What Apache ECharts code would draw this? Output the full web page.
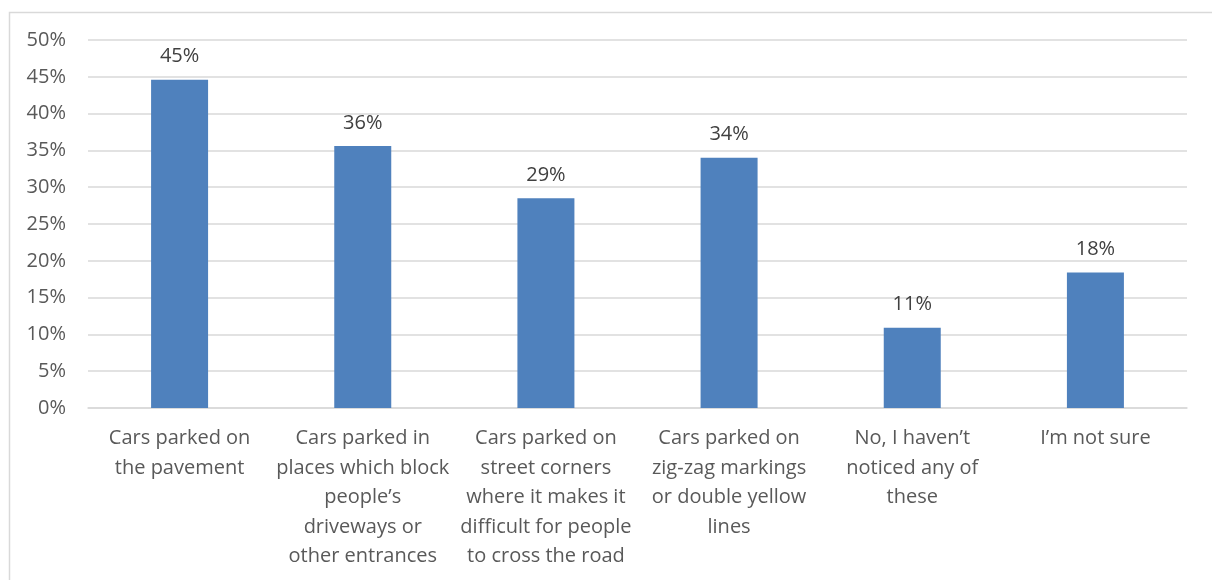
<!DOCTYPE html>
<html><head><meta charset="utf-8">
<script src="https://cdn.jsdelivr.net/npm/echarts@6/dist/echarts.min.js"></script>
<style>html,body{margin:0;padding:0;background:#fff}#c{width:1212px;height:580px}</style>
</head><body><div id="c"></div>
<script>
const categories = [
  "Cars parked on\nthe pavement",
  "Cars parked in\nplaces which block\npeople’s\ndriveways or\nother entrances",
  "Cars parked on\nstreet corners\nwhere it makes it\ndifficult for people\nto cross the road",
  "Cars parked on\nzig-zag markings\nor double yellow\nlines",
  "No, I haven’t\nnoticed any of\nthese",
  "I’m not sure"
];
const values = [44.6, 35.6, 28.5, 34.0, 10.9, 18.4];
const labels = ["45%", "36%", "29%", "34%", "11%", "18%"];
const yTicks = [0, 5, 10, 15, 20, 25, 30, 35, 40, 45, 50];

const font = "'Open Sans', sans-serif";
const chart = echarts.init(document.getElementById('c'));
chart.setOption({
  animation: false,
  graphic: [{
    type: 'rect', left: 7, top: 10, z: -1,
    shape: { x: 0, y: 0, width: 1230, height: 600 },
    style: { fill: 'none', stroke: '#d9d9d9', lineWidth: 1.5 }
  }],
  grid: { left: 88, right: 25, top: 40, bottom: 172, containLabel: false },
  xAxis: {
    type: 'category', data: categories,
    axisLine: { show: true, lineStyle: { color: '#d9d9d9', width: 1.5 } },
    axisTick: { show: false },
    axisLabel: { color: '#595959', fontFamily: font, fontSize: 20, lineHeight: 29.5, margin: 16, interval: 0 }
  },
  yAxis: {
    type: 'value', min: yTicks[0], max: yTicks[yTicks.length - 1], interval: 5,
    axisLine: { show: false }, axisTick: { show: false },
    splitLine: { lineStyle: { color: '#d9d9d9', width: 1.5 } },
    axisLabel: { color: '#595959', fontFamily: font, fontSize: 20, margin: 22, formatter: v => v + '%' }
  },
  series: [{
    type: 'bar', data: values, barWidth: 57,
    itemStyle: { color: '#4f81bd' },
    label: {
      show: true, position: 'top', distance: 13,
      color: '#404040', fontFamily: font, fontSize: 20,
      formatter: p => labels[p.dataIndex]
    }
  }]
});
</script></body></html>
